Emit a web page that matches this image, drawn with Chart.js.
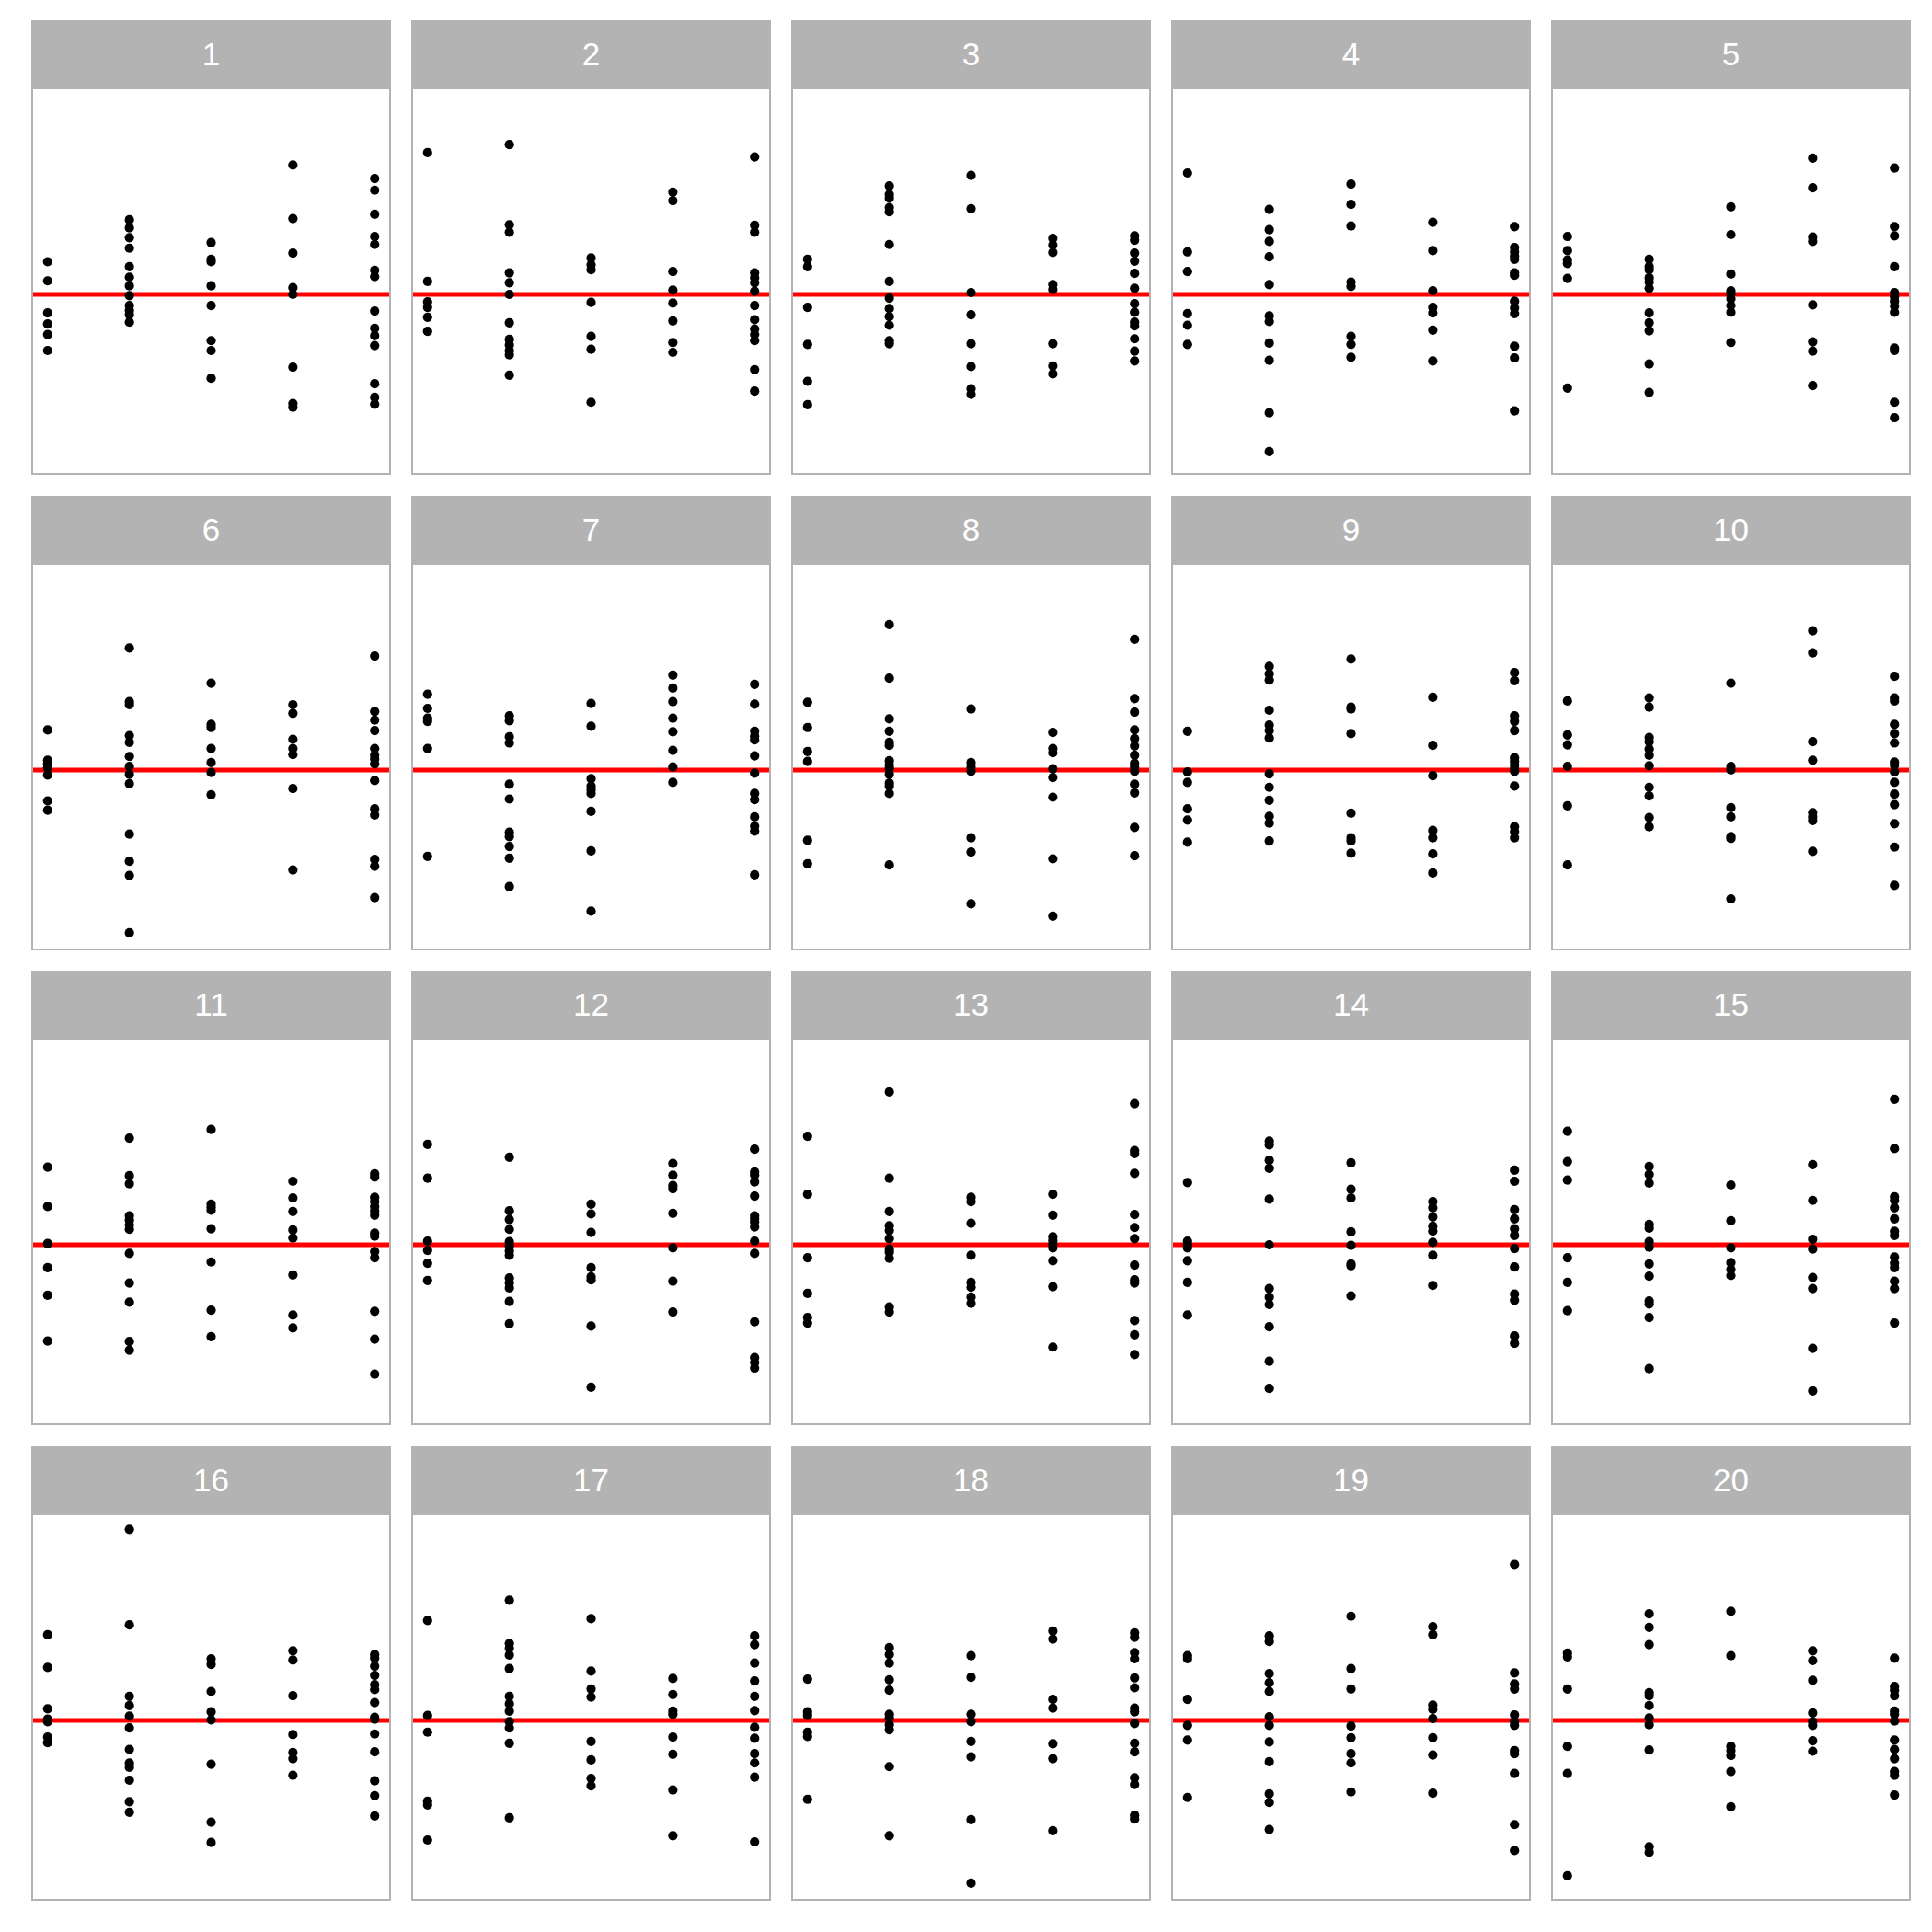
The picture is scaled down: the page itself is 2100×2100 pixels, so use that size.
<!DOCTYPE html>
<html>
<head>
<meta charset="utf-8">
<script src="https://cdn.jsdelivr.net/npm/chart.js@4.4.1/dist/chart.umd.min.js"></script>
<style>
  html, body { margin: 0; padding: 0; background: #ffffff; }
  #root { position: relative; width: 2100px; height: 2100px; background: #ffffff; overflow: hidden; }
  .strip { position: absolute; background: #B3B3B3; color: #ffffff;
           font-family: "Liberation Sans", Arial, Helvetica, sans-serif; font-size: 35px;
           display: flex; align-items: center; justify-content: center; }
  .plot { position: absolute; }
  .plot canvas { display: block; }
</style>
</head>
<body>
<div id="root"></div>
<script>
// ---- data ----
const groups = [1, 2, 3, 4, 5];
const panelLabels = ["1","2","3","4","5","6","7","8","9","10","11","12","13","14","15","16","17","18","19","20"];
const referenceLine = 0;

const panel1 = [
  [0.53, 0.22, -0.30, -0.48, -0.65, -0.91],
  [1.21, 1.08, 0.92, 0.75, 0.45, 0.28, 0.14, -0.02, -0.18, -0.26, -0.33, -0.45],
  [0.84, 0.57, 0.53, 0.14, -0.18, -0.75, -0.91, -1.36],
  [2.10, 1.23, 0.67, 0.11, 0.00, -1.18, -1.77, -1.83],
  [1.88, 1.69, 1.30, 0.94, 0.81, 0.39, 0.29, -0.27, -0.55, -0.67, -0.83, -1.45, -1.67, -1.78]
];
const panel2 = [
  [2.30, 0.21, -0.12, -0.21, -0.37, -0.60],
  [2.43, 1.13, 1.01, 0.35, 0.19, 0.00, -0.46, -0.73, -0.82, -0.91, -0.98, -1.31],
  [0.59, 0.48, 0.40, -0.13, -0.68, -0.89, -1.75],
  [1.66, 1.52, 0.37, 0.07, -0.14, -0.43, -0.78, -0.94],
  [2.23, 1.12, 1.01, 0.35, 0.27, 0.19, 0.05, -0.18, -0.41, -0.56, -0.65, -0.75, -1.22, -1.57]
];
const panel3 = [
  [0.57, 0.45, -0.21, -0.81, -1.41, -1.79],
  [1.76, 1.62, 1.56, 1.41, 1.34, 0.81, 0.21, -0.06, -0.23, -0.36, -0.50, -0.75, -0.80],
  [1.93, 1.39, 0.03, -0.33, -0.80, -1.17, -1.53, -1.62],
  [0.91, 0.80, 0.68, 0.16, 0.08, -0.80, -1.16, -1.29],
  [0.95, 0.88, 0.67, 0.54, 0.34, 0.10, -0.15, -0.29, -0.45, -0.51, -0.72, -0.92, -1.08]
];
const panel4 = [
  [1.97, 0.69, 0.37, -0.31, -0.50, -0.81],
  [1.38, 1.05, 0.86, 0.61, 0.16, -0.35, -0.44, -0.79, -1.07, -1.92, -2.55],
  [1.79, 1.46, 1.11, 0.20, 0.13, -0.68, -0.81, -1.02],
  [1.17, 0.71, 0.06, -0.21, -0.30, -0.58, -1.08],
  [1.10, 0.76, 0.69, 0.62, 0.57, 0.35, 0.31, -0.11, -0.22, -0.31, -0.84, -1.03, -1.89]
];
const panel5 = [
  [0.94, 0.71, 0.56, 0.50, 0.26, -1.52],
  [0.57, 0.45, 0.40, 0.27, 0.20, 0.10, -0.30, -0.46, -0.59, -1.13, -1.59],
  [1.42, 0.97, 0.33, 0.06, 0.01, -0.07, -0.18, -0.29, -0.78],
  [2.21, 1.73, 0.93, 0.86, -0.17, -0.77, -0.92, -1.48],
  [2.05, 1.10, 0.95, 0.45, 0.03, -0.04, -0.11, -0.19, -0.29, -0.87, -0.91, -1.75, -2.00]
];
const panel6 = [
  [0.65, 0.16, 0.10, 0.04, -0.08, -0.50, -0.65],
  [1.98, 1.11, 1.06, 0.56, 0.45, 0.22, 0.06, -0.07, -0.22, -1.04, -1.48, -1.71, -2.64],
  [1.41, 0.74, 0.69, 0.35, 0.12, -0.04, -0.40],
  [1.06, 0.92, 0.50, 0.35, 0.25, -0.30, -1.62],
  [1.85, 0.95, 0.81, 0.64, 0.35, 0.24, 0.18, 0.10, -0.17, -0.63, -0.73, -1.45, -1.56, -2.07]
];
const panel7 = [
  [1.23, 1.00, 0.84, 0.79, 0.35, -1.40],
  [0.88, 0.80, 0.54, 0.44, -0.23, -0.47, -1.01, -1.08, -1.24, -1.43, -1.89],
  [1.08, 0.71, -0.14, -0.26, -0.32, -0.38, -0.67, -1.31, -2.29],
  [1.54, 1.33, 1.11, 0.84, 0.62, 0.32, 0.05, -0.20],
  [1.39, 1.07, 0.63, 0.55, 0.49, 0.23, -0.05, -0.38, -0.48, -0.76, -0.91, -0.99, -1.70]
];
const panel8 = [
  [1.10, 0.69, 0.30, 0.14, -1.14, -1.52],
  [2.36, 1.49, 0.83, 0.63, 0.45, 0.40, 0.15, 0.08, 0.03, -0.07, -0.21, -0.26, -0.38, -1.54],
  [0.99, 0.12, 0.05, -0.02, -1.10, -1.33, -2.17],
  [0.61, 0.35, 0.28, 0.02, -0.12, -0.44, -1.44, -2.37],
  [2.12, 1.16, 0.94, 0.65, 0.51, 0.39, 0.24, 0.11, 0.05, -0.02, -0.23, -0.37, -0.93, -1.39]
];
const panel9 = [
  [0.63, -0.03, -0.20, -0.63, -0.81, -1.17],
  [1.68, 1.56, 1.46, 0.97, 0.73, 0.64, 0.52, -0.06, -0.28, -0.49, -0.75, -0.86, -1.15],
  [1.80, 1.02, 0.99, 0.59, -0.70, -1.10, -1.15, -1.35],
  [1.18, 0.40, -0.09, -0.98, -1.10, -1.36, -1.67],
  [1.58, 1.45, 0.88, 0.79, 0.64, 0.20, 0.14, 0.08, 0.02, -0.02, -0.26, -0.92, -1.00, -1.10]
];
const panel10 = [
  [1.12, 0.57, 0.41, 0.06, -0.58, -1.54],
  [1.17, 1.02, 0.53, 0.46, 0.34, 0.24, 0.07, -0.28, -0.42, -0.77, -0.92],
  [1.41, 0.06, 0.00, -0.61, -0.76, -1.08, -1.11, -2.09],
  [2.26, 1.90, 0.46, 0.16, -0.69, -0.76, -0.82, -1.32],
  [1.52, 1.17, 1.12, 0.74, 0.59, 0.44, 0.13, 0.08, -0.03, -0.20, -0.39, -0.56, -0.87, -1.25, -1.87]
];
const panel11 = [
  [1.26, 0.62, 0.02, -0.37, -0.82, -1.56],
  [1.73, 1.12, 0.99, 0.47, 0.40, 0.32, 0.25, -0.14, -0.62, -0.93, -1.57, -1.71],
  [1.87, 0.66, 0.61, 0.56, 0.26, -0.28, -1.06, -1.49],
  [1.03, 0.76, 0.54, 0.24, 0.11, -0.49, -1.14, -1.35],
  [1.15, 1.10, 0.77, 0.70, 0.62, 0.55, 0.48, 0.19, 0.14, -0.11, -0.21, -1.08, -1.53, -2.10]
];
const panel12 = [
  [1.63, 1.08, 0.06, -0.09, -0.30, -0.58],
  [1.42, 0.55, 0.41, 0.25, 0.05, -0.02, -0.10, -0.17, -0.54, -0.62, -0.70, -0.92, -1.28],
  [0.66, 0.50, 0.20, -0.37, -0.52, -0.57, -1.32, -2.31],
  [1.32, 1.13, 0.96, 0.91, 0.51, -0.05, -0.59, -1.09],
  [1.55, 1.18, 1.13, 1.02, 0.79, 0.47, 0.42, 0.37, 0.29, 0.06, -0.14, -1.25, -1.83, -1.91, -2.00]
];
const panel13 = [
  [1.76, 0.82, -0.21, -0.79, -1.18, -1.27],
  [2.48, 1.08, 0.54, 0.31, 0.23, 0.10, -0.07, -0.12, -0.22, -1.01, -1.09],
  [0.77, 0.70, 0.35, -0.17, -0.61, -0.69, -0.85, -0.95],
  [0.82, 0.48, 0.13, 0.07, 0.01, -0.05, -0.26, -0.68, -1.66],
  [2.29, 1.53, 1.48, 1.16, 0.49, 0.28, 0.10, -0.33, -0.57, -0.62, -1.23, -1.46, -1.78]
];
const panel14 = [
  [1.01, 0.06, 0.00, -0.05, -0.26, -0.61, -1.14],
  [1.68, 1.62, 1.37, 1.24, 0.74, 0.00, -0.71, -0.85, -0.97, -1.33, -1.89, -2.33],
  [1.33, 0.90, 0.76, 0.21, -0.01, -0.31, -0.34, -0.83],
  [0.70, 0.60, 0.45, 0.30, 0.22, 0.04, -0.17, -0.66],
  [1.21, 1.03, 0.57, 0.42, 0.26, 0.15, -0.06, -0.36, -0.80, -0.90, -1.48, -1.60]
];
const panel15 = [
  [1.84, 1.35, 1.05, -0.21, -0.61, -1.07],
  [1.27, 1.14, 1.00, 0.33, 0.27, 0.05, -0.04, -0.31, -0.51, -0.91, -0.96, -1.18, -2.01],
  [0.97, 0.39, -0.05, -0.29, -0.40, -0.50],
  [1.30, 0.72, 0.09, -0.07, -0.53, -0.71, -1.68, -2.37],
  [2.36, 1.56, 0.78, 0.72, 0.60, 0.42, 0.22, 0.15, -0.20, -0.30, -0.37, -0.59, -0.71, -1.27]
];
const panel16 = [
  [1.39, 0.86, 0.19, 0.02, -0.02, -0.27, -0.36],
  [3.10, 1.55, 0.39, 0.24, 0.07, -0.12, -0.47, -0.69, -0.76, -0.97, -1.32, -1.49],
  [1.00, 0.91, 0.47, 0.14, 0.01, -0.71, -1.65, -1.98],
  [1.13, 0.98, 0.40, -0.23, -0.52, -0.62, -0.89],
  [1.07, 1.01, 0.88, 0.73, 0.58, 0.50, 0.29, 0.05, 0.02, -0.22, -0.51, -0.98, -1.22, -1.55]
];
const panel17 = [
  [1.62, 0.08, -0.19, -1.31, -1.37, -1.94],
  [1.95, 1.25, 1.17, 1.06, 0.84, 0.39, 0.27, 0.15, -0.02, -0.12, -0.37, -1.58],
  [1.65, 0.80, 0.51, 0.38, -0.34, -0.64, -0.94, -1.06],
  [0.68, 0.42, 0.15, 0.10, -0.27, -0.55, -1.13, -1.87],
  [1.37, 1.23, 0.93, 0.64, 0.39, 0.16, -0.11, -0.29, -0.54, -0.69, -0.92, -1.97]
];
const panel18 = [
  [0.67, 0.14, 0.08, -0.19, -0.26, -1.28],
  [1.18, 1.07, 0.93, 0.66, 0.49, 0.10, 0.04, -0.07, -0.15, -0.75, -1.87],
  [1.05, 0.70, 0.10, -0.02, -0.34, -0.59, -1.61, -2.64],
  [1.45, 1.32, 0.34, 0.20, -0.38, -0.62, -1.79],
  [1.42, 1.35, 1.10, 1.00, 0.69, 0.53, 0.20, 0.14, -0.05, -0.37, -0.51, -0.93, -1.04, -1.54, -1.60]
];
const panel19 = [
  [1.05, 1.00, 0.34, -0.08, -0.32, -1.25],
  [1.37, 1.28, 0.76, 0.61, 0.47, 0.06, -0.08, -0.35, -0.67, -1.19, -1.33, -1.77],
  [1.69, 0.84, 0.51, -0.09, -0.28, -0.54, -0.69, -1.16],
  [1.52, 1.39, 0.25, 0.18, 0.03, -0.28, -0.56, -1.18],
  [2.53, 0.77, 0.59, 0.51, 0.09, -0.02, -0.08, -0.49, -0.54, -0.86, -1.69, -2.11]
];
const panel20 = [
  [1.09, 1.03, 0.51, -0.42, -0.86, -2.52],
  [1.73, 1.51, 1.23, 0.45, 0.40, 0.24, 0.04, -0.07, -0.48, -2.05, -2.14],
  [1.77, 1.05, -0.42, -0.49, -0.57, -0.83, -1.40],
  [1.13, 0.97, 0.65, 0.12, -0.02, -0.08, -0.33, -0.50],
  [1.01, 0.55, 0.49, 0.40, 0.15, 0.10, -0.01, -0.32, -0.47, -0.62, -0.83, -0.89, -1.21]
];

const panels = [panel1, panel2, panel3, panel4, panel5, panel6, panel7, panel8, panel9, panel10,
                panel11, panel12, panel13, panel14, panel15, panel16, panel17, panel18, panel19, panel20];

// ---- layout ----
const NCOL = 5;
const LEFT0 = 34, COLSTEP = 413, PANELW = 391;
const TOP0 = 22, ROWSTEP = 516.5, STRIPH = 73, PLOTH = 421;
const XMIN = 0.8, XMAX = 5.2, YMIN = -2.925, YMAX = 3.358;

const borderPlugin = {
  id: 'panelBorder',
  afterDraw(chart) {
    const ctx = chart.ctx;
    const a = chart.chartArea;
    ctx.save();
    ctx.strokeStyle = '#B3B3B3';
    ctx.lineWidth = 2;
    ctx.strokeRect(a.left + 1, a.top + 1, a.right - a.left - 2, a.bottom - a.top - 2);
    ctx.restore();
  }
};

const root = document.getElementById('root');

panels.forEach((panel, i) => {
  const col = i % NCOL, row = Math.floor(i / NCOL);
  const left = LEFT0 + col * COLSTEP;
  const top = Math.round(TOP0 + row * ROWSTEP);

  const strip = document.createElement('div');
  strip.className = 'strip';
  strip.style.left = left + 'px';
  strip.style.top = top + 'px';
  strip.style.width = PANELW + 'px';
  strip.style.height = STRIPH + 'px';
  strip.textContent = panelLabels[i];
  root.appendChild(strip);

  const box = document.createElement('div');
  box.className = 'plot';
  box.style.left = left + 'px';
  box.style.top = (top + STRIPH) + 'px';
  box.style.width = PANELW + 'px';
  box.style.height = PLOTH + 'px';
  const canvas = document.createElement('canvas');
  canvas.width = PANELW;
  canvas.height = PLOTH;
  canvas.style.width = PANELW + 'px';
  canvas.style.height = PLOTH + 'px';
  box.appendChild(canvas);
  root.appendChild(box);

  const pts = [];
  panel.forEach((vals, g) => {
    vals.forEach(v => pts.push({ x: groups[g], y: v }));
  });

  new Chart(canvas.getContext('2d'), {
    type: 'scatter',
    data: {
      datasets: [
        {
          type: 'line',
          data: [{ x: XMIN, y: referenceLine }, { x: XMAX, y: referenceLine }],
          borderColor: '#FF0000',
          borderWidth: 4.8,
          pointRadius: 0,
          fill: false,
          clip: 0,
          order: 2
        },
        {
          type: 'scatter',
          data: pts,
          backgroundColor: '#000000',
          borderWidth: 0,
          pointRadius: 5.1,
          pointHoverRadius: 5.1,
          clip: false,
          order: 1
        }
      ]
    },
    options: {
      responsive: false,
      animation: false,
      devicePixelRatio: 1,
      layout: { padding: 0, autoPadding: false },
      events: [],
      plugins: { legend: { display: false }, tooltip: { enabled: false }, title: { display: false } },
      scales: {
        x: { type: 'linear', min: XMIN, max: XMAX, display: false },
        y: { type: 'linear', min: YMIN, max: YMAX, display: false }
      }
    },
    plugins: [borderPlugin]
  });
});
</script>
</body>
</html>
